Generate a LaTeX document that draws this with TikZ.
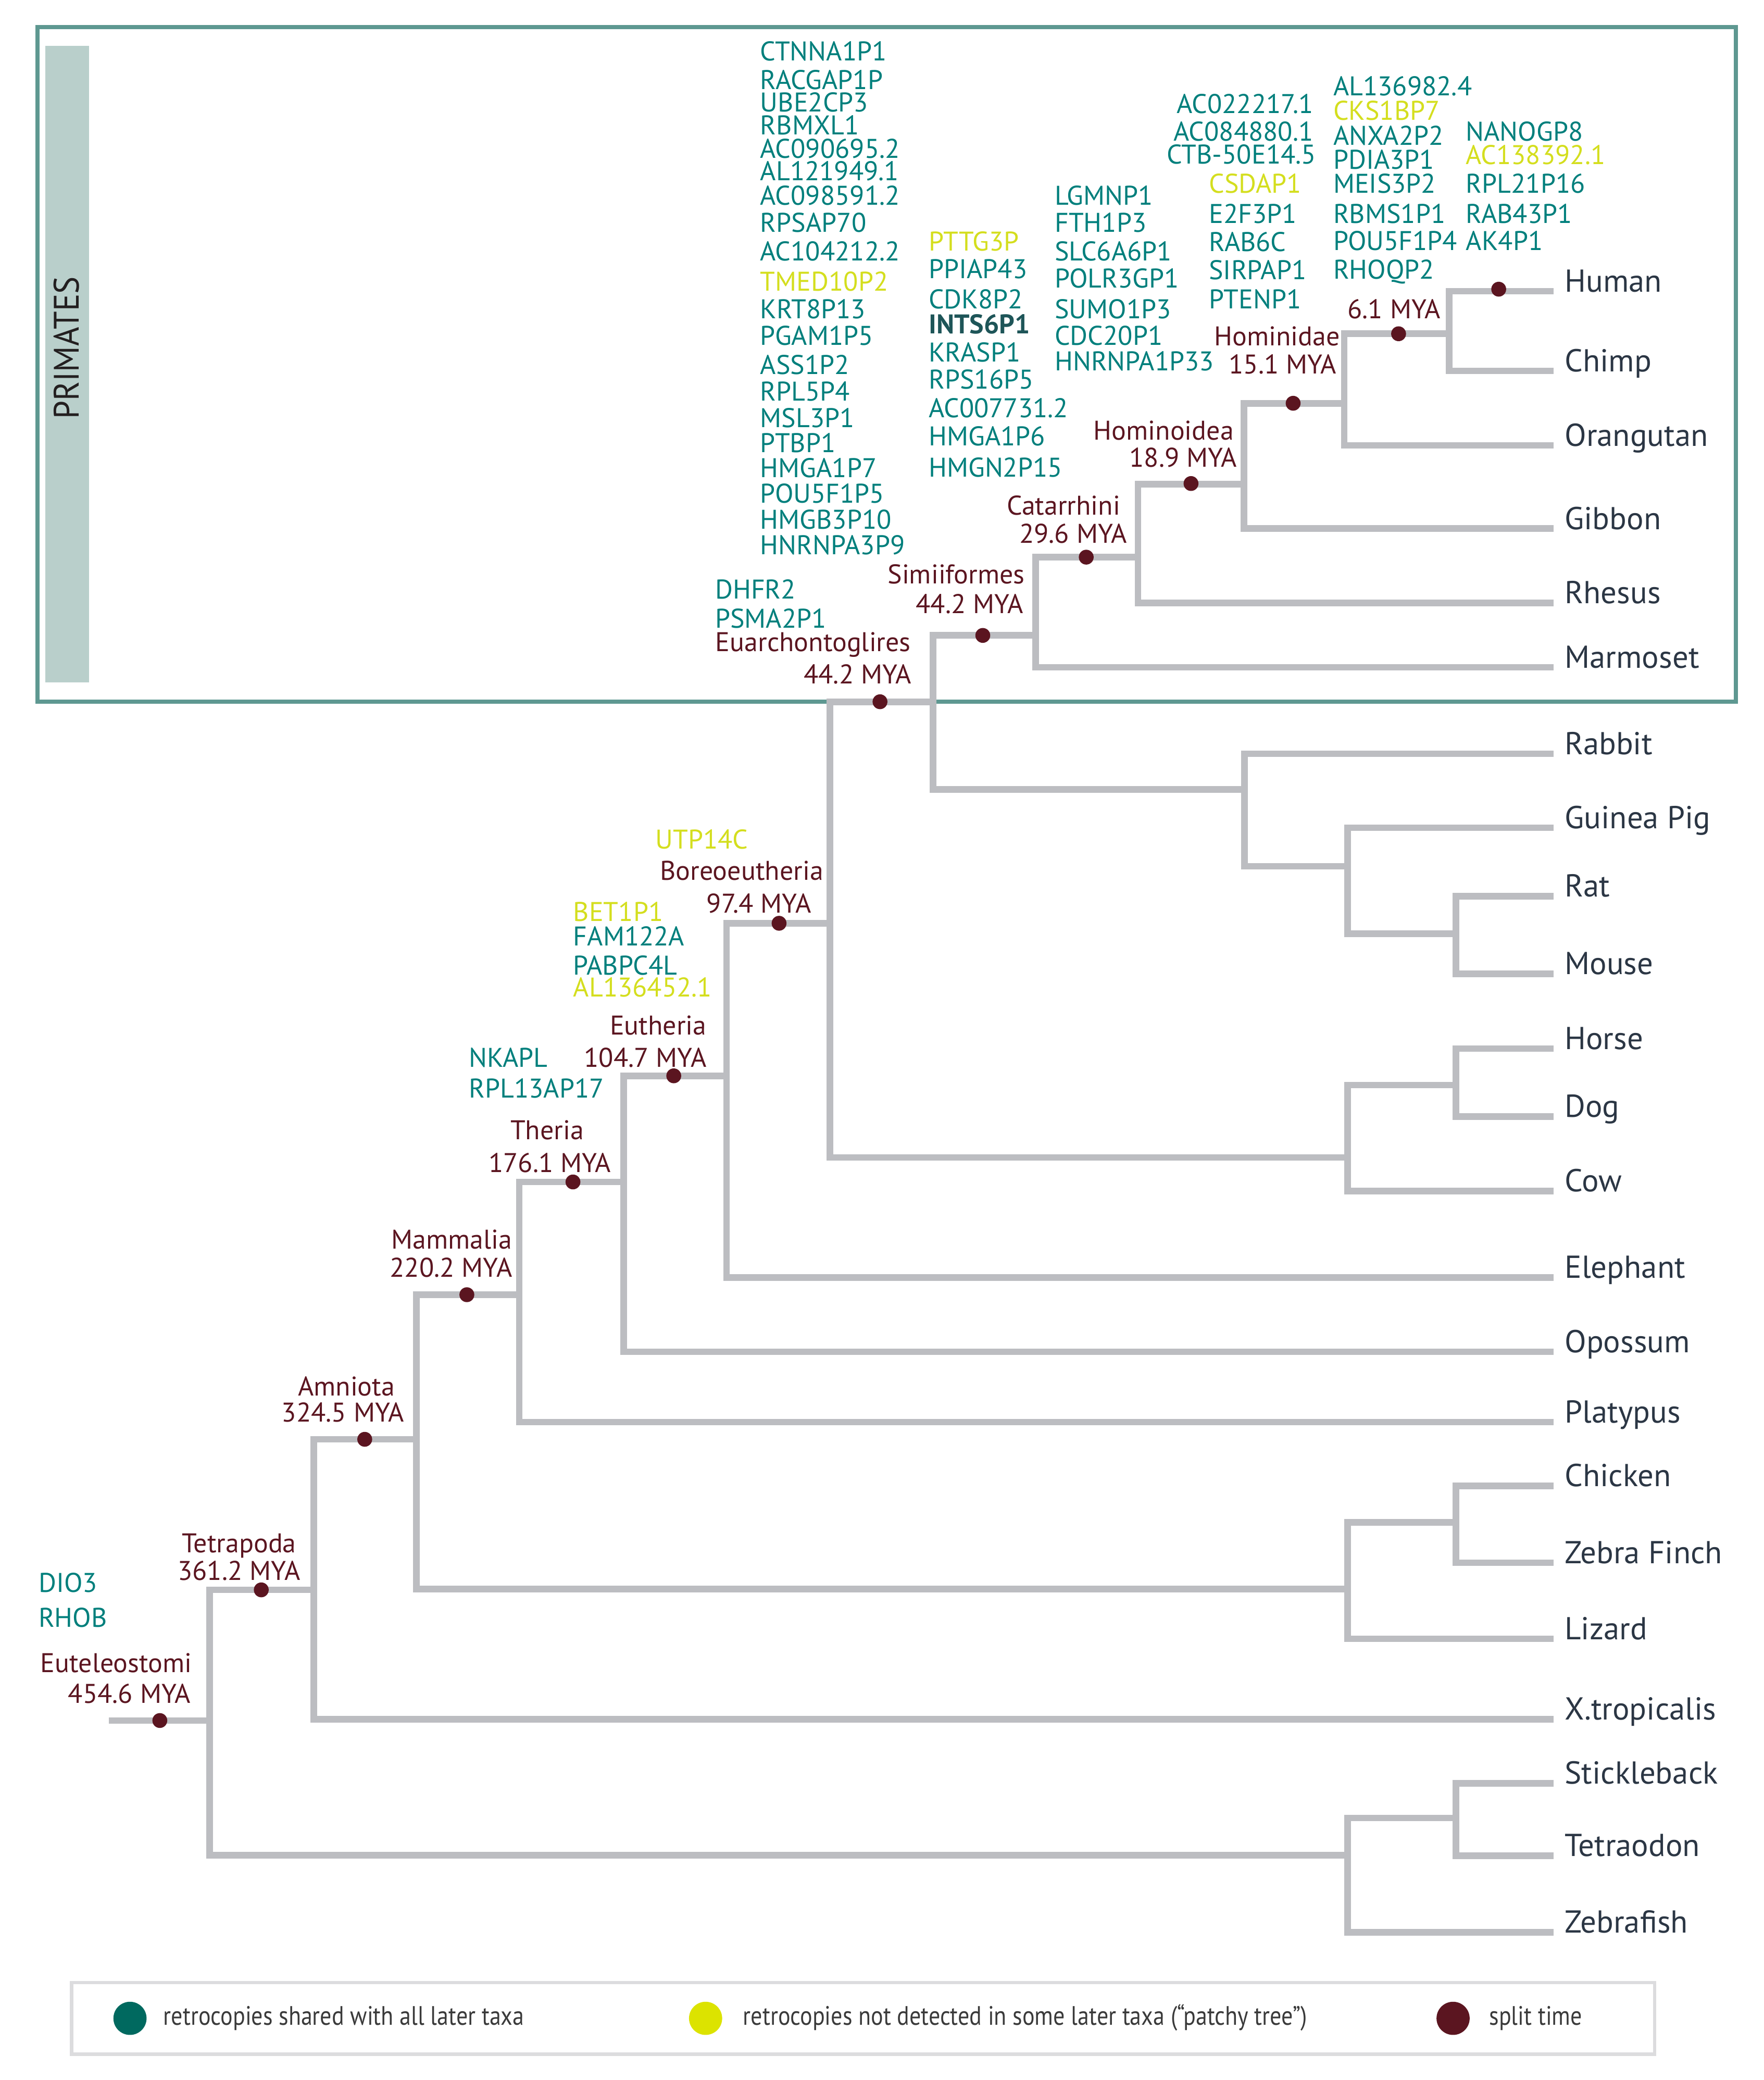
\documentclass[tikz,border=0pt]{standalone}
\usepackage{fontspec}
\setmainfont{PT Sans}
\newfontfamily\legfam[FakeStretch=0.86,Ligatures=TeX]{PT Sans}
\newfontfamily\primfam[FakeStretch=0.92]{PT Sans}
\definecolor{brgray}{HTML}{BCBDC1}
\definecolor{dred}{HTML}{5B1520}
\definecolor{genec}{HTML}{007F7C}
\definecolor{ylw}{HTML}{D4DE1E}
\definecolor{leafc}{HTML}{2B3644}
\definecolor{boxc}{HTML}{5E9891}
\definecolor{barc}{HTML}{B9CFCB}
\definecolor{primc}{HTML}{231F20}
\definecolor{legc}{HTML}{3A3A3A}
\definecolor{legbox}{HTML}{DCDCDE}
\definecolor{dteal}{HTML}{00695F}
\definecolor{dylw}{HTML}{DCE300}
\definecolor{boldc}{HTML}{1E5558}
\newcommand\gfont{\fontsize{14.5}{16}\selectfont}
\newcommand\cfont{\fontsize{14.5}{16}\selectfont}
\newcommand\lfont{\fontsize{17}{19}\selectfont}
\newcommand\legfont{\legfam\fontsize{14.3}{16}\selectfont}
\newcommand\pfont{\primfam\fontsize{19}{21}\selectfont}
\begin{document}
\begin{tikzpicture}[x=0.25mm,y=-0.25mm,
  branch/.style={draw=brgray,line width=1.25mm},
  sdot/.style={circle,fill=dred,inner sep=0pt,minimum size=2.8mm},
  gene/.style={anchor=base west,inner sep=0pt,text=genec,font=\gfont},
  ygene/.style={gene,text=ylw},
  rgene/.style={gene,anchor=base east},
  clade/.style={anchor=base east,inner sep=0pt,text=dred,font=\cfont},
  leaf/.style={anchor=base west,inner sep=0pt,text=leafc,font=\lfont},
  legtext/.style={anchor=base west,inner sep=0pt,text=legc,font=\legfont},
  legdot/.style={circle,inner sep=0pt,minimum size=6.25mm}]
\useasboundingbox (0,0) rectangle (1330,1568);
% primates box
\draw[draw=boxc,line width=0.78mm] (28.3,20.6) rectangle (1308.8,529);
\fill[barc] (34.2,34.6) rectangle (67.1,514.3);
\node[rotate=90,font=\pfont,text=primc,inner sep=0pt] (prim) at (50,262.3) {PRIMATES};
% leaves
\foreach \n/\y/\t in {hum/219.5/Human,chi/279.6/Chimp,ora/335.7/Orangutan,gib/398.5/Gibbon,rhe/454.5/Rhesus,mar/503/Marmoset,rab/568.2/Rabbit,gui/624/Guinea Pig,rat/675.5/Rat,mou/734/Mouse,hor/790.5/Horse,dog/841.6/Dog,cow/897.9/Cow,ele/963/Elephant,opo/1019/Opossum,pla/1072/Platypus,chk/1120/Chicken,zeb/1178/Zebra Finch,liz/1235.4/Lizard,xtr/1296/X.tropicalis,sti/1344.4/Stickleback,tet/1399/Tetraodon,zfi/1456.6/Zebrafish}{
  \coordinate (\n) at (1171.4,\y);
  \node[leaf] (L\n) at (1179.5,\y+0.5) {\t};
}
% internal nodes
\coordinate (r0) at (82,1297);
\coordinate (nEtl) at (158,1297);
\coordinate (nTet) at (236.6,1198.5);
\coordinate (nAmn) at (314,1085);
\coordinate (nMam) at (391.5,976);
\coordinate (nThe) at (470.3,891);
\coordinate (nEut) at (547.8,811);
\coordinate (nBor) at (625.7,696);
\coordinate (nEua) at (703.4,529);
\coordinate (nSim) at (780.8,479);
\coordinate (nCat) at (858,420);
\coordinate (nHoid) at (938,365);
\coordinate (nHom) at (1013.5,304);
\coordinate (nHC) at (1092.7,251.6);
\coordinate (nGli) at (938.4,595);
\coordinate (nRod) at (1016,653);
\coordinate (nRM) at (1097.8,704);
\coordinate (nLau) at (1016,872.5);
\coordinate (nHD) at (1097.8,818);
\coordinate (nSau) at (1016,1198);
\coordinate (nBir) at (1097.8,1147.5);
\coordinate (nFish) at (1016,1398.5);
\coordinate (nST) at (1097.8,1370.5);
% branches
\draw[branch] (r0) -- (nEtl);
\foreach \p/\c in {nEtl/nTet,nEtl/nFish,nTet/nAmn,nTet/xtr,nAmn/nMam,nAmn/nSau,nMam/nThe,nMam/pla,nThe/nEut,nThe/opo,nEut/nBor,nEut/ele,nBor/nEua,nBor/nLau,nEua/nSim,nEua/nGli,nSim/nCat,nSim/mar,nCat/nHoid,nCat/rhe,nHoid/nHom,nHoid/gib,nHom/nHC,nHom/ora,nHC/hum,nHC/chi,nGli/rab,nGli/nRod,nRod/gui,nRod/nRM,nRM/rat,nRM/mou,nLau/nHD,nLau/cow,nHD/hor,nHD/dog,nSau/nBir,nSau/liz,nBir/chk,nBir/zeb,nFish/nST,nFish/zfi,nST/sti,nST/tet}{
  \draw[branch] (\p) |- (\c);
}
% split-time dots
\foreach \n/\x/\y in {dEtl/120.5/1297,dTet/197/1198.5,dAmn/275/1085,dMam/352/976,dThe/432/891,dEut/508/811,dBor/587.4/696,dEua/663.5/529,dSim/741/479,dCat/819/420,dHoid/898/364.5,dHom/975/304,dHC/1054.5/251.6,dHum/1130/218}{
  \node[sdot] (\n) at (\x,\y) {};
}
% clade labels
\node[clade] (tHom) at (1010.6,260.6) {Hominidae};
\node[clade] (tHomm) at (1008,281.6) {15.1 MYA};
\node[clade] (tHCm) at (1086.4,240.2) {6.1 MYA};
\node[clade] (tHoid) at (930.5,331.6) {Hominoidea};
\node[clade] (tHoidm) at (933,351.9) {18.9 MYA};
\node[clade] (tCat) at (845,388) {Catarrhini};
\node[clade] (tCatm) at (850,409.5) {29.6 MYA};
\node[clade] (tSim) at (773,440) {Simiiformes};
\node[clade] (tSimm) at (772,462.4) {44.2 MYA};
\node[clade] (tEua) at (687,491) {Euarchontoglires};
\node[clade] (tEuam) at (687.5,515.5) {44.2 MYA};
\node[clade] (tBor) at (621,663.5) {Boreoeutheria};
\node[clade] (tBorm) at (612,688) {97.4 MYA};
\node[clade] (tEut) at (533,780) {Eutheria};
\node[clade] (tEutm) at (533,804.4) {104.7 MYA};
\node[clade] (tThe) at (440.5,858.8) {Theria};
\node[clade] (tThem) at (461,883.9) {176.1 MYA};
\node[clade] (tMam) at (386.5,941.5) {Mammalia};
\node[clade] (tMamm) at (386.5,962.7) {220.2 MYA};
\node[clade] (tAmn) at (298,1052) {Amniota};
\node[clade] (tAmnm) at (305,1072) {324.5 MYA};
\node[clade] (tTet) at (223.6,1170.4) {Tetrapoda};
\node[clade] (tTetm) at (226.6,1191.2) {361.2 MYA};
\node[clade] (tEtl) at (145,1260.7) {Euteleostomi};
\node[clade] (tEtlm) at (144,1284) {454.6 MYA};
% gene column 1
\foreach \y/\t/\s [count=\i] in {45.9/CTNNA1P1/gene,67.4/RACGAP1P/gene,84.4/UBE2CP3/gene,101.6/RBMXL1/gene,119/AC090695.2/gene,136/AL121949.1/gene,154.7/AC098591.2/gene,174.9/RPSAP70/gene,196.7/AC104212.2/gene,219.5/TMED10P2/ygene,240/KRT8P13/gene,260/PGAM1P5/gene,282/ASS1P2/gene,302/RPL5P4/gene,322/MSL3P1/gene,341/PTBP1/gene,360/HMGA1P7/gene,379/POU5F1P5/gene,398.6/HMGB3P10/gene,418/HNRNPA3P9/gene}{
  \node[\s] (ca\i) at (573,\y) {\t};
}
% gene column 2
\foreach \y/\t/\s [count=\i] in {189/PTTG3P/ygene,210/PPIAP43/gene,232.8/CDK8P2/gene,272.8/KRASP1/gene,293/RPS16P5/gene,314.6/AC007731.2/gene,336/HMGA1P6/gene,359.5/HMGN2P15/gene}{
  \node[\s] (cb\i) at (700,\y) {\t};
}
\node[gene,text=boldc,font=\gfont\bfseries] (cbB) at (700,251.4) {INTS6P1};
% gene column 3
\foreach \y/\t/\s [count=\i] in {154.7/LGMNP1/gene,175/FTH1P3/gene,196.7/SLC6A6P1/gene,216.8/POLR3GP1/gene,240/SUMO1P3/gene,260/CDC20P1/gene,279.5/HNRNPA1P33/gene}{
  \node[\s] (cc\i) at (795,\y) {\t};
}
% gene column 4
\node[rgene] (cd1) at (990.5,85.3) {AC022217.1};
\node[rgene] (cd2) at (990.5,106.3) {AC084880.1};
\node[rgene] (cd3) at (992.6,123.4) {CTB-50E14.5};
\foreach \y/\t/\s [count=\i] in {145.4/CSDAP1/ygene,168.4/E2F3P1/gene,189.5/RAB6C/gene,210.5/SIRPAP1/gene,232.6/PTENP1/gene}{
  \node[\s] (ce\i) at (911.3,\y) {\t};
}
% gene column 5
\foreach \y/\t/\s [count=\i] in {72.2/AL136982.4/gene,90.6/CKS1BP7/ygene,109.4/ANXA2P2/gene,127.4/PDIA3P1/gene,145.4/MEIS3P2/gene,168.4/RBMS1P1/gene,188.8/POU5F1P4/gene,210.4/RHOQP2/gene}{
  \node[\s] (cf\i) at (1005,\y) {\t};
}
% gene column 6
\foreach \y/\t/\s [count=\i] in {106.3/NANOGP8/gene,124/AC138392.1/ygene,145.4/RPL21P16/gene,168.4/RAB43P1/gene,188.8/AK4P1/gene}{
  \node[\s] (cg\i) at (1105,\y) {\t};
}
% lower gene labels
\node[gene] (gDHFR) at (539,451.3) {DHFR2};
\node[gene] (gPSMA) at (539,473.5) {PSMA2P1};
\node[ygene] (gUTP) at (494,639.8) {UTP14C};
\node[ygene] (gBET) at (432,694.3) {BET1P1};
\node[gene] (gFAM) at (432,713) {FAM122A};
\node[gene] (gPAB) at (432,735) {PABPC4L};
\node[ygene] (gAL) at (432,751.2) {AL136452.1};
\node[gene] (gNKA) at (353.3,804.4) {NKAPL};
\node[gene] (gRPL) at (353.3,827.6) {RPL13AP17};
\node[gene] (gDIO) at (28.8,1200.3) {DIO3};
\node[gene] (gRHO) at (28.8,1226.5) {RHOB};
% legend
\draw[draw=legbox,line width=0.62mm] (54,1494.5) rectangle (1247.5,1548.5);
\node[legdot,fill=dteal] (lg1) at (98,1521.5) {};
\node[legdot,fill=dylw] (lg2) at (532,1521.5) {};
\node[legdot,fill=dred] (lg3) at (1095.6,1521.5) {};
\node[legtext] (lt1) at (123,1526.5) {retrocopies shared with all later taxa};
\node[legtext] (lt2) at (560,1526.5) {retrocopies not detected in some later taxa (“patchy tree”)};
\node[legtext] (lt3) at (1122.6,1526.5) {split time};
\end{tikzpicture}
\end{document}
